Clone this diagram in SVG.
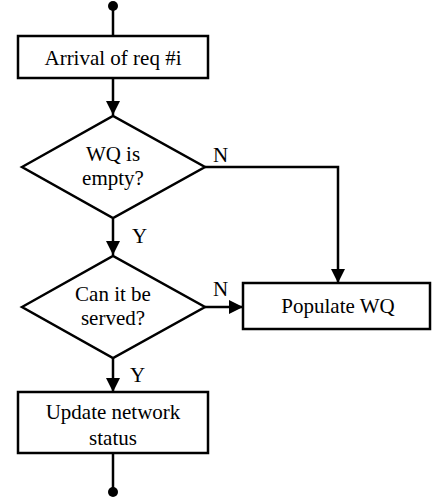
<svg xmlns="http://www.w3.org/2000/svg" width="433" height="497" viewBox="0 0 433 497">
<style>
.shape{fill:#fff;stroke:#000;stroke-width:2.5}
.conn{fill:none;stroke:#000;stroke-width:2.5}
text{font-family:"Liberation Serif","Times New Roman",serif;font-size:21px;fill:#000}
.c{text-anchor:middle}
</style>
<defs>
<marker id="arr" markerUnits="userSpaceOnUse" markerWidth="14" markerHeight="14" refX="14" refY="7" orient="auto">
<path d="M0,0 L14,7 L0,14 z" fill="#000"/>
</marker>
</defs>
<rect width="433" height="497" fill="#fff"/>
<g id="connectors">
<circle cx="113" cy="6" r="5" fill="#000"/>
<line class="conn" x1="113" y1="6" x2="113" y2="36"/>
<line class="conn" x1="113" y1="78" x2="113" y2="115" marker-end="url(#arr)"/>
<line class="conn" x1="113" y1="219" x2="113" y2="255" marker-end="url(#arr)"/>
<polyline class="conn" points="205,167 338,167 338,283" marker-end="url(#arr)"/>
<line class="conn" x1="205" y1="307" x2="243" y2="307" marker-end="url(#arr)"/>
<line class="conn" x1="113" y1="358" x2="113" y2="392" marker-end="url(#arr)"/>
<line class="conn" x1="113" y1="453" x2="113" y2="492"/>
<circle cx="113" cy="492" r="5" fill="#000"/>
<text x="213" y="162">N</text>
<text x="213" y="296">N</text>
<text x="132" y="243">Y</text>
<text x="130" y="382">Y</text>
</g>
<g id="arrival">
<rect class="shape" x="18" y="36" width="190" height="42"/>
<text class="c" x="113" y="65">Arrival of req #i</text>
</g>
<g id="wq-empty">
<polygon class="shape" points="22,167 113,116 205,167 113,218"/>
<text class="c" x="113" y="161">WQ is</text>
<text class="c" x="113" y="185">empty?</text>
</g>
<g id="can-serve">
<polygon class="shape" points="22,307 113,256 205,307 113,358"/>
<text class="c" x="113" y="301">Can it be</text>
<text class="c" x="113" y="325">served?</text>
</g>
<g id="populate">
<rect class="shape" x="243" y="283" width="187" height="46"/>
<text class="c" x="338" y="313">Populate WQ</text>
</g>
<g id="update">
<rect class="shape" x="18" y="392" width="190" height="61"/>
<text class="c" x="113" y="419">Update network</text>
<text class="c" x="113" y="445">status</text>
</g>
</svg>
